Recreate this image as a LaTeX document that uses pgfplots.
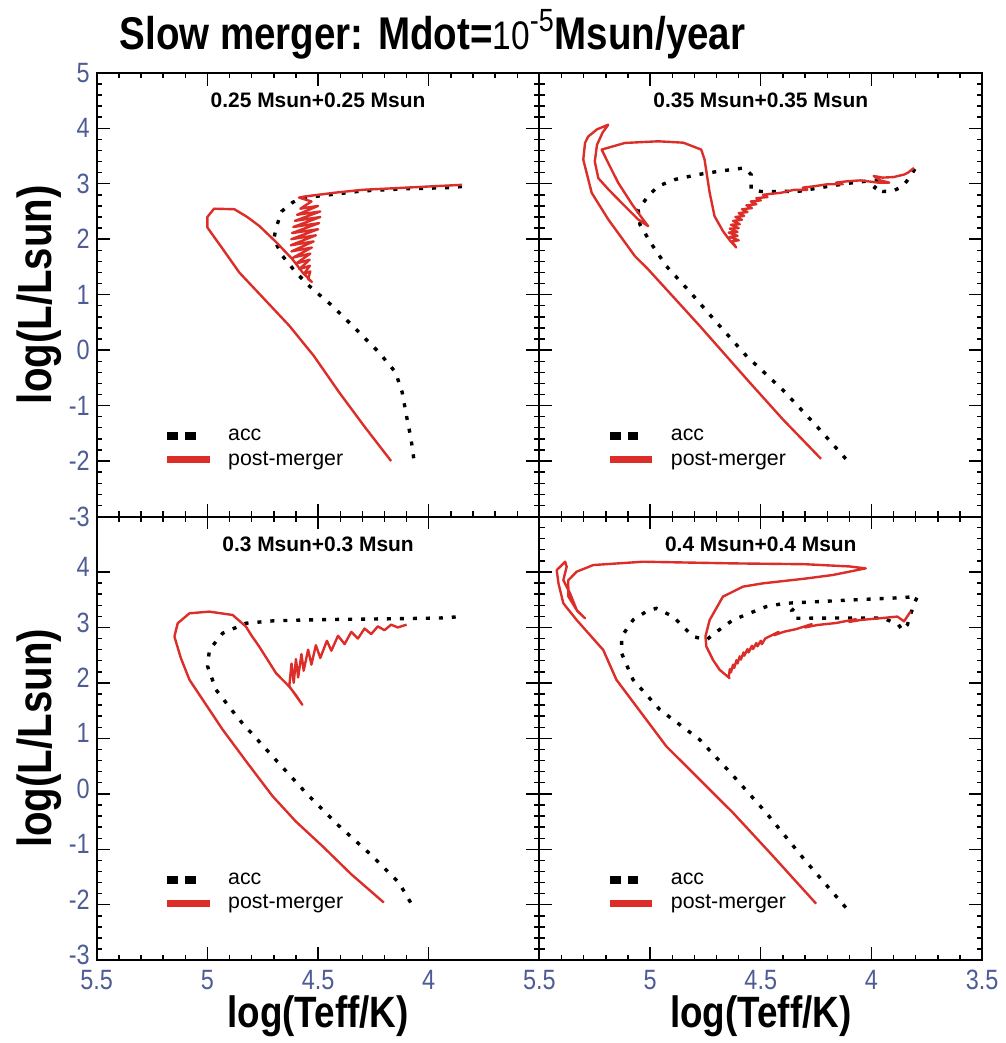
\documentclass[border=0pt]{standalone}
\usepackage{fontspec}
\usepackage{pgfplots}
\pgfplotsset{compat=1.18}
\usepgfplotslibrary{groupplots}
\setmainfont{Liberation Sans}
\newfontfamily\condfont{Liberation Sans}[FakeStretch=0.84]
\definecolor{trackred}{RGB}{220,45,40}
\definecolor{tickblue}{RGB}{78,92,150}

\tikzset{
  acc/.style={black, line width=1.7pt, dash pattern=on 2pt off 4.5pt},
  pm/.style={trackred, line width=1.2pt, line join=round},
  paneltitle/.style={font=\bfseries\fontsize{10.5}{12}\selectfont},
}

\pgfplotsset{
  hrd/.style={
    scale only axis, width=222pt, height=222.5pt,
    x dir=reverse, xmin=3.5, xmax=5.5, ymin=-3, ymax=5,
    xtick={3.5,4,4.5,5,5.5}, ytick={-3,-2,...,5},
    minor x tick num=4, minor y tick num=4,
    tick align=inside, major tick length=6.5pt, minor tick length=2.8pt,
    every tick/.style={black, line width=0.7pt},
    axis line style={line width=1pt},
    /pgf/number format/assume math mode=true,
    ticklabel style={font=\condfont\fontsize{14}{14}\selectfont, text=tickblue},
    xticklabel style={yshift=-1.5pt},
    xlabel style={font=\condfont\bfseries\fontsize{22}{22}\selectfont,
      at={(axis description cs:0.5,-0.1506)}, anchor=base},
    ylabel style={font=\condfont\bfseries\fontsize{24}{24}\selectfont,
      at={(axis description cs:-0.1014,0.5)}, anchor=base},
    legend style={at={(axis description cs:0.135,0.09)}, anchor=south west,
      draw=none, fill=none, font=\fontsize{10.7}{12}\selectfont, row sep=0pt,
      /tikz/every odd column/.append style={column sep=5.5pt}},
    legend cell align=left,
  },
}

\newcommand{\trackkey}{%
  \addlegendimage{legend image code/.code={\draw[black,line width=4pt,dash pattern=on 5.5pt off 3.5pt] (0pt,0pt) -- (14.5pt,0pt);}}
  \addlegendentry{acc}
  \addlegendimage{legend image code/.code={\draw[trackred,line width=3.5pt] (0pt,0pt) -- (21.5pt,0pt);}}
  \addlegendentry{post-merger}
}

\begin{document}
\begin{tikzpicture}
\begin{groupplot}[
  group style={group size=2 by 2, horizontal sep=0pt, vertical sep=0pt,
    xticklabels at=edge bottom, yticklabels at=edge left},
  hrd]

% ---- 0.25 + 0.25 ----
\nextgroupplot[ylabel={log(L/Lsun)}]
\addplot[acc, forget plot] coordinates {
 (4.068,-1.95) (4.08,-1.6) (4.10,-1.2) (4.12,-0.76) (4.15,-0.40) (4.225,-0.04)
 (4.33,0.38) (4.436,0.80) (4.495,1.0) (4.541,1.16) (4.60,1.40) (4.661,1.70)
 (4.70,2.0) (4.69,2.2) (4.665,2.5) (4.616,2.66) (4.58,2.74) (4.45,2.80)
 (4.3,2.87) (4.1,2.91) (3.9,2.93) (3.85,2.95)
};
\addplot[pm, forget plot] coordinates {
 (3.85,2.98) (3.95,2.96) (4.05,2.94) (4.15,2.92) (4.30,2.89) (4.42,2.84)
 (4.50,2.80) (4.56,2.77) (4.586,2.75)
 (4.53,2.68) (4.58,2.55) (4.50,2.60) (4.595,2.44) (4.49,2.50) (4.605,2.33)
 (4.49,2.40) (4.612,2.22) (4.495,2.29) (4.618,2.11) (4.50,2.18) (4.621,2.00)
 (4.51,2.07) (4.623,1.89) (4.52,1.96) (4.62,1.78) (4.528,1.85) (4.612,1.67)
 (4.535,1.74) (4.60,1.56) (4.538,1.63) (4.585,1.46) (4.537,1.52) (4.565,1.37)
 (4.535,1.42) (4.545,1.28) (4.528,1.23)
 (4.57,1.40) (4.616,1.64) (4.69,1.95) (4.766,2.24) (4.82,2.40) (4.878,2.54)
 (4.97,2.55) (5.00,2.40) (5.00,2.21) (4.93,1.82) (4.856,1.40) (4.75,0.95)
 (4.63,0.44) (4.52,-0.10) (4.405,-0.76) (4.29,-1.38) (4.17,-2.00)
};
\node[paneltitle] at (axis description cs:0.5,0.937) {0.25 Msun+0.25 Msun};
\trackkey

% ---- 0.35 + 0.35 ----
\nextgroupplot
\addplot[acc, forget plot] coordinates {
 (4.116,-1.96) (4.25,-1.36) (4.40,-0.72) (4.566,-0.10) (4.70,0.50) (4.82,1.05)
 (4.927,1.516) (5.00,1.95) (5.046,2.266) (5.054,2.536) (5.009,2.775)
 (4.964,2.955) (4.889,3.075) (4.784,3.165) (4.68,3.23) (4.573,3.285)
 (4.544,3.165) (4.544,2.896) (4.50,2.86) (4.43,2.86) (4.326,2.865) (4.20,2.95)
 (4.10,3.01) (4.026,3.045) (3.96,3.07) (3.99,2.90) (3.95,2.86) (3.905,2.865)
 (3.86,2.95) (3.83,3.10) (3.80,3.29) (3.82,3.20)
};
\addplot[pm, forget plot] coordinates {
 (3.808,3.285) (3.835,3.20) (3.853,3.165) (3.90,3.12) (3.95,3.11) (3.99,3.14)
 (3.96,3.06) (3.92,3.02) (3.97,3.02) (4.05,3.06) (4.108,3.045) (4.16,3.02)
 (4.13,2.99) (4.20,2.99) (4.258,2.955) (4.31,2.93) (4.29,2.89) (4.35,2.89)
 (4.409,2.836) (4.45,2.82) (4.49,2.80)
 (4.47,2.76) (4.52,2.74) (4.50,2.70) (4.545,2.68) (4.52,2.63) (4.565,2.61)
 (4.54,2.56) (4.585,2.54) (4.56,2.49) (4.60,2.47) (4.575,2.42) (4.615,2.40)
 (4.585,2.35) (4.625,2.33) (4.595,2.27) (4.635,2.26) (4.60,2.20) (4.64,2.19)
 (4.605,2.13) (4.645,2.12) (4.605,2.06) (4.64,2.04) (4.60,1.98) (4.63,1.96)
 (4.611,1.85)
 (4.64,1.98) (4.671,2.146) (4.709,2.415) (4.731,2.84) (4.745,3.20)
 (4.754,3.435) (4.769,3.615) (4.85,3.74) (4.964,3.765) (5.114,3.735)
 (5.219,3.615)
 (5.18,3.30) (5.144,3.016) (5.08,2.62) (5.04,2.40) (5.009,2.236)
 (5.054,2.356) (5.114,2.595) (5.189,2.90) (5.234,3.10) (5.25,3.40) (5.24,3.70)
 (5.215,3.92) (5.189,4.065)
 (5.24,3.98) (5.28,3.85) (5.294,3.735) (5.302,3.435) (5.264,2.836)
 (5.189,2.356) (5.069,1.696) (5.009,1.457) (4.776,0.437) (4.551,-0.58)
 (4.40,-1.25) (4.228,-1.96)
};
\node[paneltitle] at (axis description cs:0.5,0.937) {0.35 Msun+0.35 Msun};
\trackkey

% ---- 0.3 + 0.3 ----
\nextgroupplot[ytick={-3,-2,...,4}, xtick={4,4.5,5,5.5},
  yticklabel style={yshift=2.5pt},
  xlabel={log(Teff/K)}, ylabel={log(L/Lsun)}]
\addplot[acc, forget plot] coordinates {
 (4.082,-1.96) (4.135,-1.60) (4.255,-1.12) (4.405,-0.58) (4.555,0.018)
 (4.706,0.678) (4.856,1.337) (4.961,1.876) (4.999,2.297) (4.991,2.596)
 (4.931,2.896) (4.826,3.076) (4.70,3.12) (4.50,3.14) (4.30,3.15) (4.10,3.16)
 (3.95,3.17) (3.85,3.196)
};
\addplot[pm, forget plot] coordinates {
 (4.10,3.05) (4.14,3.00) (4.17,3.05) (4.20,2.95) (4.23,3.02) (4.26,2.88)
 (4.29,2.98) (4.32,2.80) (4.35,2.92) (4.38,2.70) (4.41,2.85) (4.44,2.58)
 (4.46,2.76) (4.49,2.45) (4.51,2.68) (4.53,2.33) (4.545,2.60) (4.565,2.22)
 (4.575,2.52) (4.59,2.10) (4.60,2.43) (4.61,2.00) (4.62,2.35) (4.63,1.94)
 (4.571,1.606) (4.60,1.78) (4.631,1.937) (4.69,2.176) (4.766,2.656)
 (4.80,2.85) (4.826,3.016) (4.886,3.225) (4.991,3.285) (5.081,3.255)
 (5.134,3.076) (5.149,2.836) (5.12,2.45) (5.081,2.056) (4.931,1.157)
 (4.82,0.56) (4.706,-0.04) (4.60,-0.50) (4.481,-0.94) (4.35,-1.45)
 (4.203,-1.96)
};
\node[paneltitle] at (axis description cs:0.5,0.937) {0.3 Msun+0.3 Msun};
\trackkey

% ---- 0.4 + 0.4 ----
\nextgroupplot[xlabel={log(Teff/K)}]
\addplot[acc, forget plot] coordinates {
 (4.116,-2.05) (4.30,-1.20) (4.476,-0.34) (4.63,0.35) (4.776,0.977)
 (4.956,1.517) (5.077,2.056) (5.129,2.536) (5.129,2.836) (5.077,3.135)
 (5.02,3.28) (4.972,3.345) (4.896,3.196) (4.806,2.836) (4.746,2.776)
 (4.69,2.95) (4.626,3.135) (4.476,3.375) (4.393,3.435) (4.093,3.495)
 (3.90,3.53) (3.793,3.556) (3.81,3.40) (3.838,3.045) (3.86,2.95) (3.88,3.06)
 (3.95,3.17) (4.15,3.17) (4.348,3.165) (4.36,3.30) (4.33,3.42)
};
\addplot[pm, forget plot] coordinates {
 (3.823,3.29) (3.853,3.11) (3.883,3.196) (3.95,3.17) (4.048,3.135) (4.10,3.10)
 (4.07,3.15) (4.16,3.08) (4.243,3.045) (4.30,3.00) (4.27,3.06) (4.34,2.97)
 (4.393,2.925) (4.44,2.86) (4.42,2.92) (4.48,2.80)
 (4.495,2.70) (4.50,2.76) (4.515,2.66) (4.52,2.72) (4.535,2.61) (4.54,2.67)
 (4.555,2.55) (4.56,2.61) (4.575,2.49) (4.578,2.55) (4.59,2.42) (4.595,2.48)
 (4.605,2.35) (4.61,2.41) (4.62,2.27) (4.625,2.33) (4.635,2.19) (4.64,2.25)
 (4.645,2.10) (4.641,2.086)
 (4.686,2.236) (4.716,2.415) (4.746,2.656) (4.75,2.84) (4.731,3.135)
 (4.671,3.556) (4.581,3.735) (4.491,3.795) (4.30,3.88) (4.176,3.945)
 (4.026,4.065)
 (4.10,4.10) (4.30,4.14) (4.626,4.155) (5.032,4.185) (5.257,4.125)
 (5.332,4.005) (5.37,3.85) (5.369,3.556) (5.332,3.316) (5.294,3.165)
 (5.33,3.30) (5.36,3.60) (5.392,3.854) (5.377,4.095) (5.384,4.185)
 (5.422,4.034) (5.414,3.795) (5.392,3.435) (5.332,3.135) (5.212,2.595)
 (5.152,2.056) (4.927,0.858) (4.626,-0.34) (4.45,-1.10) (4.25,-1.98)
};
\node[paneltitle] at (axis description cs:0.5,0.937) {0.4 Msun+0.4 Msun};
\trackkey
\end{groupplot}

% figure title
\node[anchor=base west, font=\condfont\fontsize{23}{23}\selectfont]
  at ([xshift=8pt,yshift=11.5pt]group c1r1.north west)
  {\bfseries Slow merger: Mdot=\mdseries{\fontsize{20}{20}\selectfont 10}\textsuperscript{-5}\bfseries Msun/year};

% page extent
\path ([xshift=-48.5pt,yshift=36.5pt]group c1r1.north west)
  rectangle ([xshift=9.5pt,yshift=-40pt]group c2r2.south east);
\end{tikzpicture}
\end{document}
